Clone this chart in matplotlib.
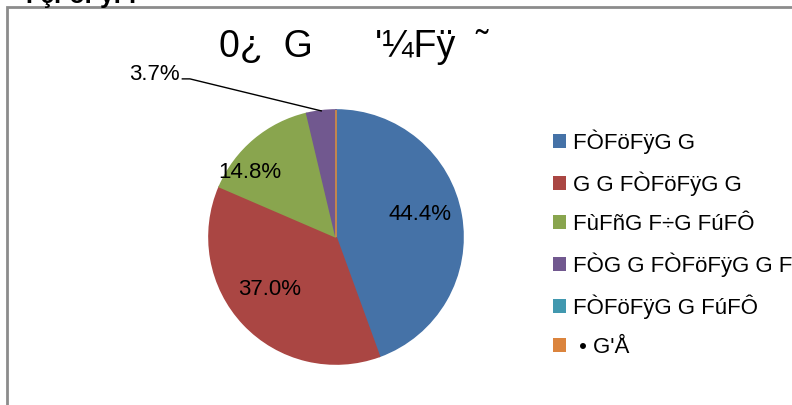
import matplotlib
matplotlib.use("Agg")
import matplotlib.pyplot as plt
from matplotlib.patches import Rectangle

plt.rcParams['font.family'] = ['Liberation Sans', 'DejaVu Sans']

title = "0¿  G      '¼Fÿ  ˜"
header = "FçFöFÿFÍ"
categories = ["FÒFöFÿG G", "G G FÒFöFÿG G", "FùFñG F÷G FúFÔ",
              "FÒG G FÒFöFÿG G FúFÔ", "FÒFöFÿG G FúFÔ", " • G'Å"]
values = [44.4, 37.0, 14.8, 3.7, 0.0, 0.0]
colors = ["#4572A7", "#AA4643", "#89A54E", "#71588F", "#4198AF", "#DB843D"]

W, H = 792, 405
fig = plt.figure(figsize=(W / 100, H / 100), dpi=100)

# outer chart border
fig.patches.append(Rectangle((7 / W, -0.05), 1.2, 1 - 7 / H + 0.05,
                             transform=fig.transFigure, fill=False,
                             edgecolor="#8c8c8c", linewidth=2, zorder=0))
fig.text(25 / W, 1 - 3 / H, header, fontsize=18, fontweight='bold',
         va='baseline', ha='left')

cx, cy, r = 336, 237, 127
ax = fig.add_axes([(cx - r) / W, (H - cy - r) / H, 2 * r / W, 2 * r / H])
ax.set_xlim(-1, 1)
ax.set_ylim(-1, 1)
ax.axis('off')

wedges, texts, autotexts = ax.pie(
    values, colors=colors, startangle=90, counterclock=False, radius=1,
    autopct=lambda p: f"{p:.1f}%" if p > 0.05 else "", pctdistance=0.68,
    textprops=dict(fontsize=16))
for w in wedges:
    w.set_edgecolor(w.get_facecolor())
    w.set_linewidth(1.2)
ax.set_xlim(-1, 1)
ax.set_ylim(-1, 1)

# adjust label positions to match reference
autotexts[0].set_position((0.66, 0.18))
autotexts[1].set_position((-0.52, -0.41))
autotexts[2].set_position((-0.68, 0.51))
autotexts[3].set_position((-1.43, 1.28))
# leader line for small slice
ax.plot([-1.21, -1.15, -0.116], [1.245, 1.245, 0.993], color='black',
        linewidth=1, clip_on=False)

fig.text(219 / W, 1 - 57 / H, title, fontsize=27, ha='left', va='baseline')

handles = [Rectangle((0, 0), 1, 1, facecolor=c) for c in colors]
leg = fig.legend(handles, categories, loc='upper left',
                 bbox_to_anchor=(542 / W, 1 - 118 / H), frameon=False,
                 fontsize=16, handlelength=0.6, handleheight=0.6,
                 handletextpad=0.3, labelspacing=0.80, borderpad=0)

fig.savefig("out.png", dpi=100)
